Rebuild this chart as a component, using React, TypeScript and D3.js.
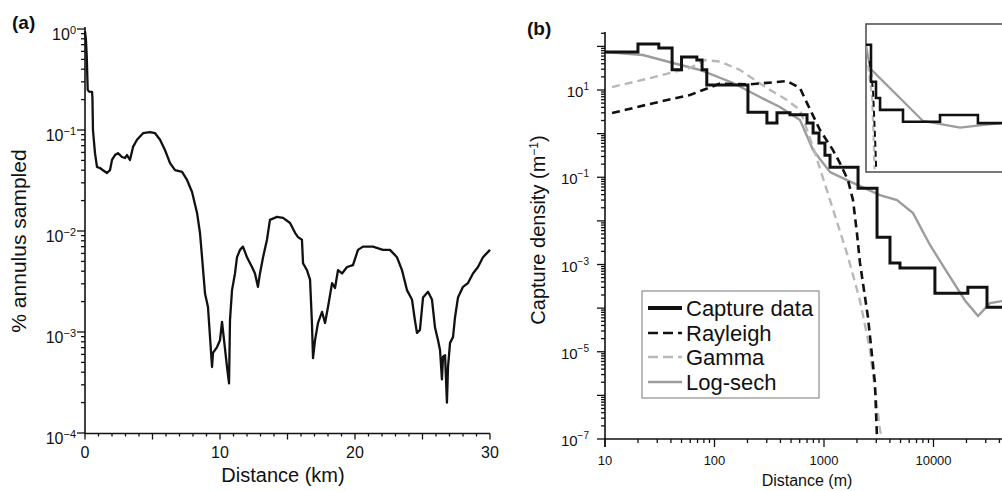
import React from "react";
import * as d3 from "d3";

// ---- panel (a): % annulus sampled vs distance (km) ----
const annulusKm = [0, 0.07, 0.13, 0.2, 0.3, 0.52, 0.55, 0.59, 0.74, 0.89, 1.11, 1.33, 1.63, 1.85, 2.0, 2.22, 2.44, 2.74, 2.96, 3.11, 3.33, 3.56, 3.85, 4.3, 4.81, 5.19, 5.56, 5.93, 6.3, 6.67, 7.19, 7.56, 7.93, 8.3, 8.52, 8.67, 8.89, 9.11, 9.41, 9.48, 9.78, 10.0, 10.15, 10.3, 10.52, 10.67, 10.74, 10.89, 11.11, 11.26, 11.48, 11.7, 12.0, 12.37, 12.59, 12.81, 12.96, 13.19, 13.48, 13.7, 14.22, 14.67, 15.19, 15.56, 15.78, 16.07, 16.15, 16.44, 16.67, 16.81, 16.89, 17.04, 17.26, 17.56, 17.78, 18.0, 18.3, 18.52, 18.74, 19.04, 19.41, 19.85, 20.22, 20.59, 21.33, 22.07, 22.59, 23.11, 23.48, 23.85, 24.22, 24.44, 24.59, 24.81, 25.04, 25.41, 25.7, 25.93, 26.15, 26.3, 26.44, 26.52, 26.67, 26.81, 26.89, 27.04, 27.26, 27.41, 27.63, 28.0, 28.37, 28.74, 29.11, 29.48, 30.0];
const annulusFraction = [0.95, 0.78, 0.53, 0.25, 0.24, 0.238, 0.21, 0.1, 0.059, 0.043, 0.042, 0.04, 0.0375, 0.04, 0.0505, 0.0565, 0.059, 0.054, 0.0528, 0.0565, 0.0505, 0.068, 0.08, 0.093, 0.0955, 0.093, 0.08, 0.063, 0.047, 0.04, 0.0384, 0.032, 0.0243, 0.0151, 0.0095, 0.0055, 0.0024, 0.00177, 0.00045, 0.00062, 0.00071, 0.00083, 0.00126, 0.00083, 0.00045, 0.00031, 0.00131, 0.0026, 0.0038, 0.0055, 0.0065, 0.007, 0.0055, 0.0044, 0.0038, 0.0028, 0.0038, 0.0055, 0.0082, 0.0129, 0.0138, 0.0135, 0.012, 0.0096, 0.0087, 0.0082, 0.0048, 0.0041, 0.0033, 0.00123, 0.00055, 0.00083, 0.00123, 0.00158, 0.00123, 0.00177, 0.00305, 0.00273, 0.0041, 0.0038, 0.0044, 0.0046, 0.0065, 0.007, 0.007, 0.0065, 0.0065, 0.0055, 0.0041, 0.0026, 0.0021, 0.0013, 0.00098, 0.00105, 0.0022, 0.0025, 0.0021, 0.0011, 0.00083, 0.00066, 0.00034, 0.00057, 0.00059, 0.0002, 0.00045, 0.00078, 0.00089, 0.0014, 0.0022, 0.0028, 0.00305, 0.0038, 0.0044, 0.0055, 0.0065];
const annulusExpTicks = [0, -1, -2, -3, -4];
const annulusKmTicks = [0, 10, 20, 30];

// ---- panel (b): capture density vs distance (m) ----
const captureBinStart = [10, 20, 31, 41, 50, 69, 77, 85, 202, 301, 372, 489, 700, 795, 900, 1020, 1135, 2046, 3050, 4005, 4943, 10300, 20600, 30800, 100000];
const captureDensity = [74, 113, 92, 29, 57, 49, 29, 13, 3.1, 1.75, 3.0, 2.7, 1.75, 1.03, 0.61, 0.32, 0.17, 0.056, 0.0042, 0.00108, 0.00083, 0.00022, 0.0003, 0.000105, 0.000105];
const rayleighM = [11.6, 25.8, 59.7, 112, 211, 459, 604, 700, 919, 1208, 1400, 1655, 1840, 2000, 2130, 2520, 2920, 3050];
const rayleighDensity = [2.96, 4.8, 7.7, 14, 13.5, 16, 11.1, 5.0, 1.21, 0.42, 0.21, 0.086, 0.03, 0.0052, 0.0011, 6.2e-5, 1.9e-6, 1e-7];
const gammaM = [11.6, 25.8, 59.7, 82, 112, 171, 301, 459, 604, 795, 1135, 1622, 2130, 2630, 3245, 3390];
const gammaDensity = [11.7, 18.8, 32, 48.7, 45, 28.8, 11.1, 5.9, 3.5, 0.49, 0.03, 0.0018, 1.5e-4, 1.1e-5, 1.6e-7, 1e-7];
const logsechM = [10, 22.2, 41.8, 73.8, 148, 260, 396, 604, 795, 1135, 1622, 3245, 4640, 6500, 9290, 13280, 19400, 25500, 32800, 42300, 60000];
const logsechDensity = [74.5, 63.5, 41.6, 28.8, 14.5, 6.9, 4.07, 2.05, 0.42, 0.131, 0.086, 0.039, 0.03, 0.0151, 0.0028, 6.7e-4, 1.5e-4, 6.6e-5, 1.3e-4, 1.45e-4, 1.5e-4];
const densityExpLabels = [1, -1, -3, -5, -7];
const distanceTicks = [10, 100, 1000, 10000];
const legendNames = ["Capture data", "Rayleigh", "Gamma", "Log-sech"];

// inset (linear axes, km / relative density)
const insetCaptureKm = [0, 0.27, 0.54, 0.76, 2.0, 4.0, 6.05, 12];
const insetCaptureVal = [0.86, 0.61, 0.5, 0.42, 0.34, 0.385, 0.33, 0.33];
const insetLogsechKm = [0, 0.22, 3.08, 5.08, 7.24, 9.4, 12];
const insetLogsechVal = [0.86, 0.7, 0.345, 0.3, 0.33, 0.35, 0.35];
const insetRayleighKm = [0.2, 0.38, 0.5, 0.55];
const insetRayleighVal = [0.75, 0.55, 0.2, 0.02];
const insetGammaKm = [0.12, 0.33, 0.42, 0.46];
const insetGammaVal = [0.72, 0.5, 0.2, 0.02];

const FONT = "'Liberation Sans', Arial, Helvetica, sans-serif";
const BLACK = "#111";
const GAMMA = "#b8b8b8";
const LOGSECH = "#9c9c9c";

const styles = [
  { stroke: BLACK, width: 3, dash: undefined as string | undefined },
  { stroke: BLACK, width: 2.6, dash: "8 5" },
  { stroke: GAMMA, width: 2.4, dash: "8 5" },
  { stroke: LOGSECH, width: 2.4, dash: undefined as string | undefined },
];

function minorLog(lo: number, hi: number) {
  const out: { v: number; major: boolean }[] = [];
  for (let e = Math.floor(Math.log10(lo)); e <= Math.ceil(Math.log10(hi)); e++) {
    for (let k = 1; k <= 9; k++) {
      const v = k * Math.pow(10, e);
      if (v >= lo * 0.999 && v <= hi * 1.001) out.push({ v, major: k === 1 });
    }
  }
  return out;
}

export default function App() {
  // panel (a)
  const xA = d3.scaleLinear().domain([0, 30]).range([85, 490]);
  const yA = d3.scaleLog().domain([1e-4, 1]).range([433, 29]);
  const lineA = d3.line<number>().x((_, i) => xA(annulusKm[i])).y((d) => yA(d));
  const yTicksA = minorLog(1e-4, 1);
  const xTicksA = d3.range(0, 31, 1);

  // panel (b)
  const xB = d3.scaleLog().domain([10, 1e5]).range([605, 1043]);
  const yB = d3.scaleLog().domain([1e-7, Math.pow(10, 2.33)]).range([439, 32]);
  const mk = (xs: number[]) => d3.line<number>().x((_, i) => xB(xs[i])).y((d) => yB(d));
  const stepLine = d3.line<number>().x((_, i) => xB(captureBinStart[i])).y((d) => yB(d)).curve(d3.curveStepAfter);
  const yTicksB = minorLog(1e-7, Math.pow(10, 2.33));
  const xTicksB = minorLog(10, 1e5);

  // inset
  const xI = d3.scaleLinear().domain([0, 10]).range([866, 1051]);
  const yI = d3.scaleLinear().domain([0, 1]).range([172, 24]);
  const mkI = (xs: number[]) => d3.line<number>().x((_, i) => xI(xs[i])).y((d) => yI(d));

  const legendY = [308, 333, 357, 382];

  return (
    <svg width={1002} height={491} style={{ position: "absolute", left: 0, top: 0, background: "#fff" }} fontFamily={FONT}>
      <defs>
        <clipPath id="clipB"><rect x={605} y={20} width={397} height={420} /></clipPath>
        <clipPath id="clipI"><rect x={866} y={24} width={200} height={148} /></clipPath>
      </defs>
      <rect width={1002} height={491} fill="#fff" />

      {/* ---------- panel (a) ---------- */}
      <text x={12} y={29} fontSize={19} fontWeight="bold" fill={BLACK}>(a)</text>
      <line x1={85} x2={85} y1={27} y2={434} stroke={BLACK} strokeWidth={1.6} />
      <line x1={84} x2={490} y1={433.5} y2={433.5} stroke={BLACK} strokeWidth={1.6} />
      {yTicksA.map((t, i) => (
        <line key={"ya" + i} x1={85 - (t.major ? 8 : 4)} x2={85} y1={yA(t.v)} y2={yA(t.v)} stroke={BLACK} strokeWidth={1.3} />
      ))}
      {annulusExpTicks.map((e) => (
        <text key={"yla" + e} x={76} y={yA(Math.pow(10, e)) + 10.5} textAnchor="end" fontSize={16} fill={BLACK}>
          10<tspan dy={-6} fontSize={11}>{e < 0 ? "\u2212" + -e : e}</tspan>
        </text>
      ))}
      {xTicksA.map((k) => (
        <line key={"xa" + k} x1={xA(k)} x2={xA(k)} y1={433.5} y2={433.5 + (k % 5 === 0 ? 6 : 3)} stroke={BLACK} strokeWidth={1.3} />
      ))}
      {annulusKmTicks.map((k) => (
        <text key={"xla" + k} x={xA(k)} y={458} textAnchor="middle" fontSize={16} fill={BLACK}>{k}</text>
      ))}
      <text x={283} y={482} textAnchor="middle" fontSize={20} fill={BLACK}>Distance (km)</text>
      <text transform="translate(26,241) rotate(-90)" textAnchor="middle" fontSize={21} fill={BLACK}>% annulus sampled</text>
      <path d={lineA(annulusFraction) || ""} fill="none" stroke={BLACK} strokeWidth={2.3} strokeLinejoin="round" />

      {/* ---------- panel (b) ---------- */}
      <text x={527} y={35} fontSize={19} fontWeight="bold" fill={BLACK}>(b)</text>
      <g clipPath="url(#clipB)">
        <path d={mk(logsechM)(logsechDensity) || ""} fill="none" stroke={LOGSECH} strokeWidth={2.4} />
        <path d={mk(gammaM)(gammaDensity) || ""} fill="none" stroke={GAMMA} strokeWidth={2.4} strokeDasharray="8 5" />
        <path d={mk(rayleighM)(rayleighDensity) || ""} fill="none" stroke={BLACK} strokeWidth={2.6} strokeDasharray="8 5" />
        <path d={stepLine(captureDensity) || ""} fill="none" stroke={BLACK} strokeWidth={3} />
      </g>
      <line x1={605} x2={605} y1={32} y2={447} stroke={BLACK} strokeWidth={1.6} />
      <line x1={604} x2={1002} y1={439} y2={439} stroke={BLACK} strokeWidth={1.6} />
      {yTicksB.map((t, i) => (
        <line key={"yb" + i} x1={605 - (t.major ? 8 : 4)} x2={605} y1={yB(t.v)} y2={yB(t.v)} stroke={BLACK} strokeWidth={1.3} />
      ))}
      {densityExpLabels.map((e) => (
        <text key={"ylb" + e} x={589} y={yB(Math.pow(10, e)) + 7} textAnchor="end" fontSize={15} fill={BLACK}>
          10<tspan dy={-7} fontSize={10}>{e < 0 ? "\u2212" + -e : e}</tspan>
        </text>
      ))}
      {xTicksB.map((t, i) => (
        <line key={"xb" + i} x1={xB(t.v)} x2={xB(t.v)} y1={439} y2={439 + (t.major ? 8 : 4)} stroke={BLACK} strokeWidth={1.3} />
      ))}
      {distanceTicks.map((v) => (
        <text key={"xlb" + v} x={xB(v)} y={465} textAnchor="middle" fontSize={13} fill={BLACK}>{v}</text>
      ))}
      <text x={807} y={486} textAnchor="middle" fontSize={16} fill={BLACK}>Distance (m)</text>
      <text transform="translate(545,230) rotate(-90)" textAnchor="middle" fontSize={20} fill={BLACK}>
        Capture density (m<tspan dy={-7} fontSize={12}>{"\u22121"}</tspan><tspan dy={7}>)</tspan>
      </text>

      {/* inset */}
      <rect x={866} y={24} width={200} height={148} fill="#fff" stroke="#555" strokeWidth={1.6} />
      <g clipPath="url(#clipI)">
        <path d={mkI(insetLogsechKm)(insetLogsechVal) || ""} fill="none" stroke={LOGSECH} strokeWidth={2.2} />
        <path d={mkI(insetGammaKm)(insetGammaVal) || ""} fill="none" stroke={GAMMA} strokeWidth={2.2} strokeDasharray="6 4" />
        <path d={mkI(insetRayleighKm)(insetRayleighVal) || ""} fill="none" stroke={BLACK} strokeWidth={2} strokeDasharray="6 4" />
        <path d={mkI(insetCaptureKm).curve(d3.curveStepAfter)(insetCaptureVal) || ""} fill="none" stroke={BLACK} strokeWidth={2.6} />
      </g>

      {/* legend */}
      <rect x={642} y={291} width={177} height={107} fill="#fff" stroke="#777" strokeWidth={1} />
      {legendNames.map((name, i) => (
        <g key={name}>
          <line x1={648} x2={682} y1={legendY[i]} y2={legendY[i]} stroke={styles[i].stroke} strokeWidth={i === 0 ? 4 : styles[i].width} strokeDasharray={styles[i].dash ? "10 5" : undefined} />
          <text x={686} y={legendY[i] + 8} fontSize={22} fill={BLACK}>{name}</text>
        </g>
      ))}
    </svg>
  );
}
